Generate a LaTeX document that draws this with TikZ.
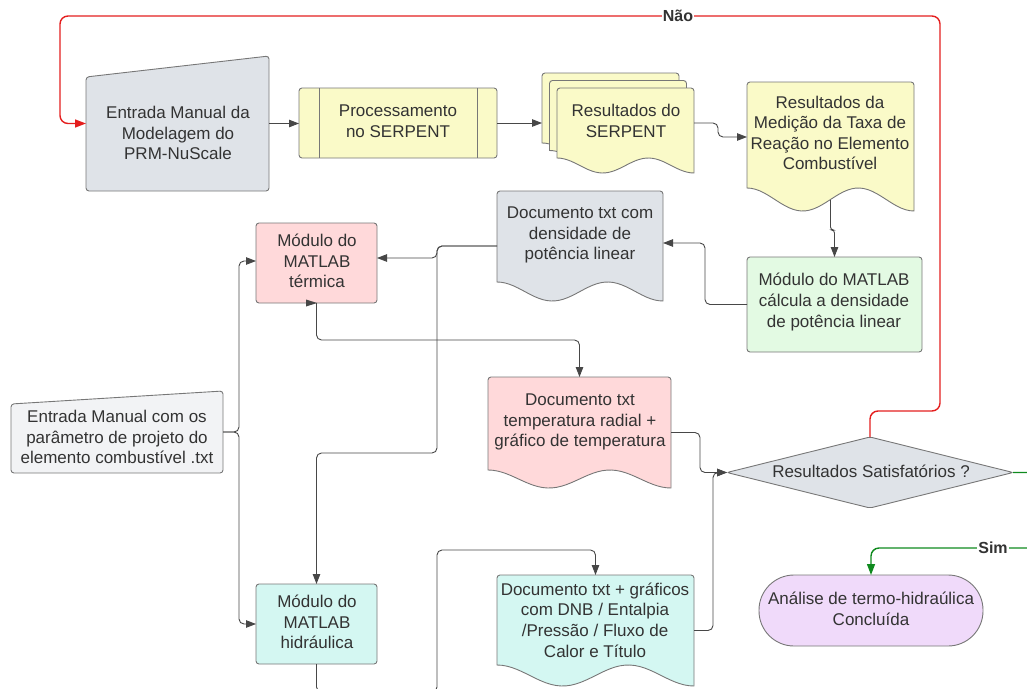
\documentclass[tikz,border=0pt]{standalone}
\usepackage{fontspec}
\setmainfont{Liberation Sans}
\usetikzlibrary{arrows.meta}
\definecolor{txt}{HTML}{333333}
\definecolor{ln}{HTML}{474747}
\definecolor{brd}{HTML}{777777}
\definecolor{fgray}{HTML}{DFE3E8}
\definecolor{fyel}{HTML}{FAFAC8}
\definecolor{fgreen}{HTML}{E3FAE3}
\definecolor{fpink}{HTML}{FFD9DA}
\definecolor{fteal}{HTML}{D4F7F2}
\definecolor{flight}{HTML}{F2F3F5}
\definecolor{fpurp}{HTML}{F0DAFA}
\definecolor{cred}{HTML}{E41E1E}
\definecolor{cgreen}{HTML}{0F8A1E}
% document shape: fill, left, top, right, bottom, wave amplitude
\newcommand{\docshape}[6]{\draw[shp, fill=#1] (#2,#5-#6) [rounded corners=3pt] -- (#2,#3) -- (#4,#3) -- (#4,#5) [sharp corners] -- plot[domain=0:1,samples=41] ({#4-(#4-#2)*\x},{#5-#6/2-#6/2*cos(540*(1-\x))}) -- cycle;}
\begin{document}
\begin{tikzpicture}[x=1pt,y=-1pt,
  shp/.style={draw=brd, line width=0.9pt},
  port/.style={draw=none, inner sep=0pt, outer sep=0pt, rectangle},
  lbl/.style={text=txt, align=center, font=\fontsize{17}{20.6}\selectfont, inner sep=0pt},
  conn/.style={draw=ln, line width=0.9pt, rounded corners=5pt, -{Triangle[length=10pt,width=7.5pt]}},
  edgelbl/.style={fill=white, text=txt, font=\bfseries\fontsize{16}{18}\selectfont, inner sep=1.2pt}]
\useasboundingbox (0,0) rectangle (1027,688);
\clip (0,0) rectangle (1027,688);

% ---------- shapes ----------
\draw[shp, fill=fgray, rounded corners=3pt] (86,77) -- (269,56) -- (269,191) -- (86,191) -- cycle;
\draw[shp, fill=fyel, rounded corners=3pt] (299,88) rectangle (497,158);
\draw[shp] (319,88) -- (319,158) (477,88) -- (477,158);
\docshape{fyel}{542}{73}{679}{158}{15}
\docshape{fyel}{549.5}{80.5}{686.5}{165.5}{15}
\docshape{fyel}{557}{88}{694}{173}{15}
\docshape{fyel}{747}{82}{914}{211}{23}
\draw[shp, fill=fgreen, rounded corners=3pt] (747,257) rectangle (922,352);
\docshape{fgray}{497}{191}{663}{301}{19}
\draw[shp, fill=fpink, rounded corners=3pt] (256,223) rectangle (377,303);
\draw[shp, fill=fteal, rounded corners=3pt] (256,584) rectangle (377,664);
\docshape{fpink}{488}{377}{671}{488}{18}
\draw[shp, fill=flight, rounded corners=3pt] (11,404) -- (223,391) -- (223,473) -- (11,473) -- cycle;
\docshape{fteal}{497}{575}{694}{686}{21}
\draw[shp, fill=fgray, rounded corners=2pt] (727,472.5) -- (870,437) -- (1013,472.5) -- (870,508) -- cycle;
\draw[shp, fill=fpurp, rounded corners=35pt] (759,575) rectangle (983,646);

% ---------- ports (bounding boxes of the shapes) ----------
\node[port, minimum width=183pt, minimum height=135pt] (A) at (177.5,123.5) {};
\node[port, minimum width=198pt, minimum height=70pt] (B) at (398,123) {};
\node[port, minimum width=152pt, minimum height=100pt] (C) at (618,123) {};
\node[port, minimum width=167pt, minimum height=129pt] (D) at (830.5,146.5) {};
\node[port, minimum width=175pt, minimum height=95pt] (E) at (834.5,304.5) {};
\node[port, minimum width=166pt, minimum height=110pt] (F) at (580,246) {};
\node[port, minimum width=121pt, minimum height=80pt] (G) at (316.5,263) {};
\node[port, minimum width=121pt, minimum height=80pt] (H) at (316.5,624) {};
\node[port, minimum width=183pt, minimum height=111pt] (I) at (579.5,432.5) {};
\node[port, minimum width=212pt, minimum height=82pt] (J) at (117,432) {};
\node[port, minimum width=197pt, minimum height=111pt] (K) at (595.5,630.5) {};
\node[port, minimum width=286pt, minimum height=71pt] (L) at (870,472.5) {};
\node[port, minimum width=224pt, minimum height=71pt] (M) at (871,610.5) {};

% ---------- connectors ----------
\draw[conn] (A.east) -- (A.east -| B.west);
\draw[conn] (B.east) -- (C.west);
\draw[conn] (C.east) -- ++(24,0) |- ([yshift=9.5pt]D.west);
\draw[conn, rounded corners=3pt] ([yshift=11pt]D.south) |- (834.5,230) -- (E.north);
\draw[conn] (E.west) -| (705,243) -- ([yshift=3pt]F.east);
\draw[conn] (F.west) -| (437,258) -- ([yshift=5pt]G.east);
\draw[conn] (F.west) -| (437,453) -| (H.north);
\draw[conn] (G.south) |- (579.5,340) -- (I.north);
\fill[ln] (317,303) -- (306,299.5) -- (306,306.5) -- cycle;
\draw[conn] (J.east) -| (239,261) -- ([yshift=2pt]G.west);
\draw[conn] (J.east) -| (239,624) -- (H.west);
\draw[conn] (I.east) -| (700,472.5) -- (L.west);
\draw[conn] (K.east) -| (713,472.5) -- (L.west);
\draw[conn] (H.south) |- (437,692) |- (595.5,550) -- (K.north);
\draw[conn, draw=cred, line width=1.4pt, rounded corners=8pt, -{Triangle[length=11pt,width=8pt]}] (L.north) |- (940,411) |- (60,16) |- (A.west);
\draw[conn, draw=cgreen, line width=1.4pt, rounded corners=8pt, -{Triangle[length=11pt,width=8pt]}] (L.east) -| (1045,548) -| (M.north);
\node[edgelbl] (nao) at (678,16) {Não};
\node[edgelbl] (sim) at (993,548) {Sim};

% ---------- texts ----------
\node[lbl] (At) at (178,133) {Entrada Manual da\\Modelagem do\\PRM-NuScale};
\node[lbl] (Bt) at (398,121) {Processamento\\no SERPENT};
\node[lbl] (Ct) at (626,121) {Resultados do\\SERPENT};
\node[lbl] (Dt) at (830,133) {Resultados da\\Medição da Taxa de\\Reação no Elemento\\Combustível};
\node[lbl] (Et) at (834,302) {Módulo do MATLAB\\cálcula a densidade\\de potência linear};
\node[lbl] (Ft) at (580,235) {Documento txt com\\densidade de\\potência linear};
\node[lbl] (Gt) at (317,261) {Módulo do\\MATLAB\\térmica};
\node[lbl] (Ht) at (317,622) {Módulo do\\MATLAB\\hidráulica};
\node[lbl] (It) at (580,422) {Documento txt\\temperatura radial +\\gráfico de temperatura};
\node[lbl] (Jt) at (117,437) {Entrada Manual com os\\parâmetro de projeto do\\elemento combustível .txt};
\node[lbl] (Kt) at (595,620) {Documento txt + gráficos\\com DNB / Entalpia\\/Pressão / Fluxo de\\Calor e Título};
\node[lbl] (Lt) at (871,471) {Resultados Satisfatórios ?};
\node[lbl] (Mt) at (871,609) {Análise de termo-hidraúlica\\Concluída};
\end{tikzpicture}
\end{document}
